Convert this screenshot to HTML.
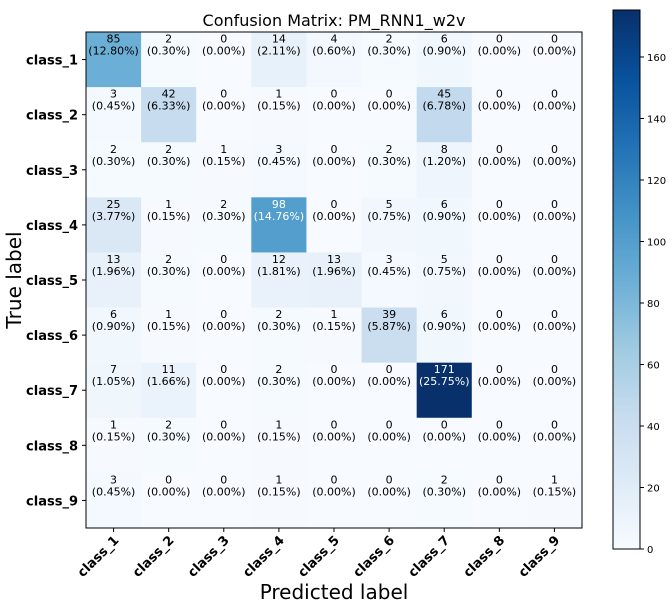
<!DOCTYPE html>
<html><head><meta charset="utf-8"><style>
body{margin:0;background:#fff}
svg text{font-family:"DejaVu Sans","Liberation Sans",sans-serif}
</style></head><body>
<svg id="c" width="672" height="608" xmlns="http://www.w3.org/2000/svg">
<defs><linearGradient id="cb" x1="0" y1="1" x2="0" y2="0"></linearGradient></defs>
<text x="334" y="26" font-size="16" text-anchor="middle">Confusion Matrix: PM_RNN1_w2v</text>
<g id="cells"></g>
<rect x="86" y="32" width="496" height="496" fill="none" stroke="#000" stroke-width="1"/>
<g id="ticks"></g>
<text transform="translate(21,280) rotate(-90)" font-size="20" text-anchor="middle">True label</text>
<text x="334" y="599" font-size="20" text-anchor="middle">Predicted label</text>
<rect x="613" y="10" width="27" height="539" fill="url(#cb)" stroke="#000" stroke-width="1"/>
<g id="cbticks"></g>
</svg>
<script>
const labels=["class_1","class_2","class_3","class_4","class_5","class_6","class_7","class_8","class_9"];
const row1=[85,2,0,14,4,2,6,0,0];
const row2=[3,42,0,1,0,0,45,0,0];
const row3=[2,2,1,3,0,2,8,0,0];
const row4=[25,1,2,98,0,5,6,0,0];
const row5=[13,2,0,12,13,3,5,0,0];
const row6=[6,1,0,2,1,39,6,0,0];
const row7=[7,11,0,2,0,0,171,0,0];
const row8=[1,2,0,1,0,0,0,0,0];
const row9=[3,0,0,1,0,0,2,0,1];
const matrix=[row1,row2,row3,row4,row5,row6,row7,row8,row9];
const cbTicks=[0,20,40,60,80,100,120,140,160];
const NS="http://www.w3.org/2000/svg";
const L=86,T=32,S=496/9;
const total=matrix.flat().reduce((a,b)=>a+b,0);
const vmax=Math.max(...matrix.flat());
const blues=[[247,251,255],[222,235,247],[198,219,239],[158,202,225],[107,174,214],[66,146,198],[33,113,181],[8,81,156],[8,48,107]];
function cmap(t){t=Math.max(0,Math.min(1,t));const p=t*8,i=Math.min(7,Math.floor(p)),f=p-i;const a=blues[i],b=blues[i+1];return `rgb(${a.map((v,k)=>Math.round(v+(b[k]-v)*f)).join(',')})`;}
function mk(tag,attrs,par){const e=document.createElementNS(NS,tag);for(const k in attrs)e.setAttribute(k,attrs[k]);par.appendChild(e);return e;}
const xs=i=>L+S*(i+0.5), ys=i=>T+S*(i+0.5);
const cells=document.getElementById('cells');
matrix.forEach((row,r)=>row.forEach((v,c)=>{
 const rc=mk('rect',{x:L+S*c,y:T+S*r,width:S+0.5,height:S+0.5,fill:cmap(v/vmax)},cells);
 
 
 const col=v>vmax/2?'#fff':'#000';
 const t=mk('text',{x:xs(c),y:ys(r)-17,'font-size':'11','text-anchor':'middle',fill:col},cells);
 
 
 t.textContent=v;
 const t2=mk('text',{x:xs(c),y:ys(r)-5,'font-size':'11','text-anchor':'middle',fill:col},cells);
 
 
 t2.textContent='('+(v/total*100).toFixed(2)+'%)';
}));
const tk=document.getElementById('ticks');
labels.forEach((lb,i)=>{
 mk('line',{x1:L-4,x2:L,y1:ys(i),y2:ys(i),stroke:'#000'},tk);
 const yl=mk('text',{x:L-8,y:ys(i)+5,'font-size':'13','font-weight':'bold','text-anchor':'end'},tk);
 
 
 yl.textContent=lb;
 mk('line',{x1:xs(i),x2:xs(i),y1:528,y2:532,stroke:'#000'},tk);
 const xl=mk('text',{transform:`translate(${xs(i)+6},${541}) rotate(-45)`,'font-size':'13','font-weight':'bold','text-anchor':'end'},tk);
 
 
 xl.textContent=lb;
});
const g=document.getElementById('cb');
blues.forEach((b,i)=>mk('stop',{offset:(i/8),'stop-color':`rgb(${b.join(',')})`},g));
const cbTop=10,cbBot=549,cbMax=vmax*1.025;
const cbt=document.getElementById('cbticks');
cbTicks.forEach(v=>{
 const y=cbBot-(v/cbMax)*(cbBot-cbTop);
 mk('line',{x1:640,x2:644,y1:y,y2:y,stroke:'#000'},cbt);
 const t=mk('text',{x:647,y:y+4,'font-size':'10'},cbt);
 
 
 t.textContent=v;
});
</script>
</body></html>
